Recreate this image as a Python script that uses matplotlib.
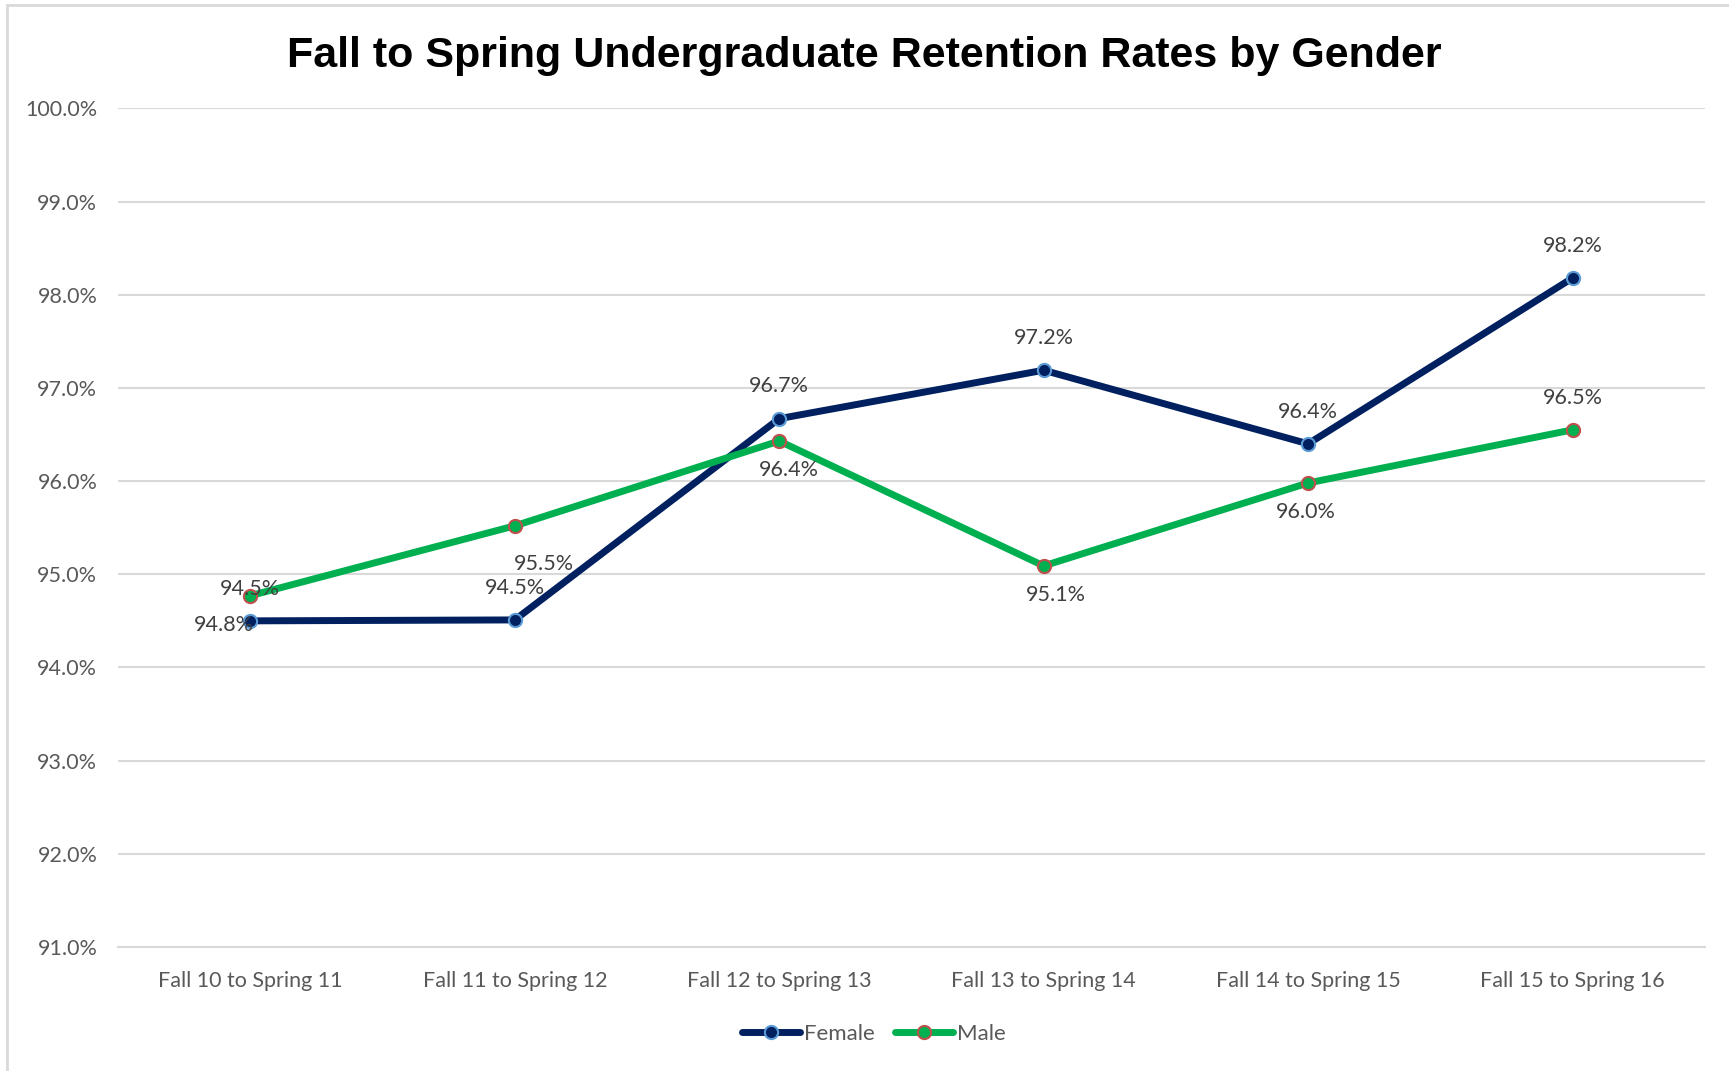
import matplotlib.pyplot as plt
from matplotlib.patches import Rectangle
from matplotlib.ticker import FuncFormatter

# Data
terms = ['Fall 10 to Spring 11', 'Fall 11 to Spring 12', 'Fall 12 to Spring 13',
         'Fall 13 to Spring 14', 'Fall 14 to Spring 15', 'Fall 15 to Spring 16']
female = [94.50, 94.51, 96.67, 97.19, 96.40, 98.18]
male = [94.77, 95.52, 96.43, 95.09, 95.98, 96.55]
female_labels = ['94.5%', '94.5%', '96.7%', '97.2%', '96.4%', '98.2%']
male_labels = ['94.8%', '95.5%', '96.4%', '95.1%', '96.0%', '96.5%']

# label offsets in points (dx, dy) -- Excel labels were nudged by hand
female_off = [(0, 16), (0, 16), (0, 16), (0, 16), (0, 16), (0, 16)]
male_off = [(-19, -14), (21, -20), (7, -14), (9, -14), (-2, -14), (0, 16)]

plt.rcParams['font.family'] = ['Lato', 'DejaVu Sans']

fig = plt.figure(figsize=(17.29, 10.71), dpi=100)
ax = fig.add_axes([0.0683, 0.1158, 0.9177, 0.783])

x = list(range(len(terms)))

ax.plot(x, female, color='#002060', linewidth=5, marker='o', markersize=9.5,
        markerfacecolor='#002060', markeredgecolor='#5b9bd5', markeredgewidth=1.5,
        label='Female', solid_capstyle='round', zorder=3)
ax.plot(x, male, color='#00b050', linewidth=5, marker='o', markersize=9.5,
        markerfacecolor='#00b050', markeredgecolor='#c0504d', markeredgewidth=1.5,
        label='Male', solid_capstyle='round', zorder=3)

# Data labels
for i in x:
    dx, dy = female_off[i]
    ax.annotate(female_labels[i], (i, female[i]), xytext=(dx, dy), textcoords='offset points',
                ha='center', va='bottom' if dy > 0 else 'top',
                fontsize=15.5, color='#404040', zorder=4)
    dx, dy = male_off[i]
    ax.annotate(male_labels[i], (i, male[i]), xytext=(dx, dy), textcoords='offset points',
                ha='center', va='bottom' if dy > 0 else 'top',
                fontsize=15.5, color='#404040', zorder=4)

ax.set_xlim(-0.5, len(terms) - 0.5)
ax.set_ylim(91, 100)
ax.set_yticks([91, 92, 93, 94, 95, 96, 97, 98, 99, 100])
ax.yaxis.set_major_formatter(FuncFormatter(lambda v, p: f'{v:.1f}%'))
ax.set_xticks(x)
ax.set_xticklabels(terms)
ax.tick_params(axis='both', length=0, labelsize=15.5, labelcolor='#595959')
ax.tick_params(axis='x', pad=17)
ax.tick_params(axis='y', pad=15)

ax.grid(axis='y', color='#d9d9d9', linewidth=1.5)
ax.set_axisbelow(True)
for s in ax.spines.values():
    s.set_visible(False)
ax.spines['bottom'].set_visible(True)
ax.spines['bottom'].set_color('#d9d9d9')
ax.spines['bottom'].set_linewidth(1.5)

fig.text(0.5, 0.948, 'Fall to Spring Undergraduate Retention Rates by Gender',
         ha='center', va='center', fontsize=31, fontweight='bold',
         family='Liberation Sans', color='black')

fig.legend(loc='center', bbox_to_anchor=(0.5055, 0.035), ncol=2, frameon=False,
           fontsize=16, handlelength=2.6, handletextpad=0.2, columnspacing=0.9,
           labelcolor='#595959')

# Chart border (left and top edges visible)
fig.patches.append(Rectangle((0.004, -0.01), 1.0, 1.0053, transform=fig.transFigure,
                             fill=False, edgecolor='#d9d9d9', linewidth=2))

fig.savefig('out.png', dpi=100)
